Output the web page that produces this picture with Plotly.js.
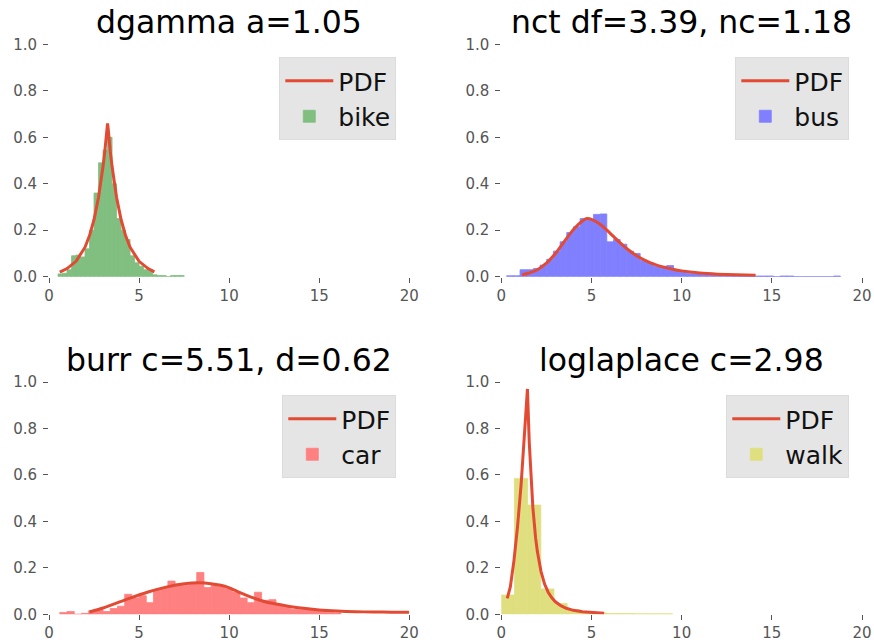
<!DOCTYPE html>
<html>
<head>
<meta charset="utf-8">
<script src="https://cdn.plot.ly/plotly-3.0.1.min.js"></script>
<style>html,body{margin:0;padding:0;background:#fff;}#chart{width:874px;height:642px;}</style>
</head>
<body>
<div id="chart"></div>
<script>
// ---- titles ----
const titles = ['dgamma a=1.05', 'nct df=3.39, nc=1.18', 'burr c=5.51, d=0.62', 'loglaplace c=2.98'];
const names = ['bike', 'bus', 'car', 'walk'];

// ---- histogram data (bin left edges, bin widths, densities) ----
const bikeEdges = [0.5,0.75,1.0,1.25,1.5,1.75,2.0,2.25,2.5,2.75,3.0,3.25,3.5,3.75,4.0,4.25,4.5,4.75,5.0,5.25,5.5,5.75,6.0,6.25,6.5,6.75,7.0,7.25];
const bikeBinWidth = 0.25;
const bikeDensity = [0.012,0.015,0.03,0.09,0.093,0.085,0.12,0.2,0.36,0.49,0.545,0.60,0.40,0.25,0.2,0.16,0.09,0.06,0.045,0.03,0.03,0.008,0.005,0.005,0,0.005,0.005,0.005];

const busEdges = [0.3,0.67,1.04,1.41,1.78,2.15,2.52,2.89,3.26,3.63,4.0,4.37,4.74,5.11,5.48,5.85,6.22,6.59,6.96,7.33,7.7,8.07,8.44,8.81,9.18,9.55,9.92,10.29,10.66,11.03,11.4,11.77,12.14,12.51,12.88,13.25,13.62,13.99,14.36,14.73,15.1,15.47,15.84,16.21,16.58,16.95,17.32,17.69,18.06,18.43];
const busBinWidth = 0.37;
const busDensity = [0.004,0.004,0.03,0.03,0.035,0.05,0.075,0.11,0.15,0.19,0.215,0.25,0.245,0.268,0.27,0.15,0.16,0.14,0.11,0.10,0.07,0.06,0.045,0.045,0.048,0.025,0.02,0.015,0.012,0.01,0.008,0.007,0.005,0.004,0.004,0.003,0.003,0.003,0.003,0.003,0,0.003,0.003,0,0,0,0,0,0,0.003];

const carEdges = [0.6,1.0,1.4,1.8,2.2,2.6,3.0,3.4,3.8,4.2,4.6,5.0,5.4,5.8,6.2,6.6,7.0,7.4,7.8,8.2,8.6,9.0,9.4,9.8,10.2,10.6,11.0,11.4,11.8,12.2,12.6,13.0,13.4,13.8,14.2,14.6,15.0,15.4,15.8];
const carBinWidth = 0.4;
const carDensity = [0.008,0.012,0,0.004,0.015,0.02,0.012,0.025,0.035,0.086,0.07,0.08,0.05,0.105,0.115,0.143,0.13,0.125,0.13,0.18,0.115,0.125,0.12,0.11,0.095,0.07,0.05,0.095,0.06,0.063,0.04,0.03,0.022,0.02,0.018,0.02,0.013,0.008,0.006];

const walkEdges = [0,0.73,1.46,2.19,2.92,3.65,4.38,5.11,5.84,6.57,7.3,8.03,8.76];
const walkBinWidth = 0.73;
const walkDensity = [0.083,0.585,0.47,0.109,0.047,0.02,0.01,0.006,0.003,0.003,0.002,0.002,0.002];

// ---- fitted PDF curves ----
const bikePdfX = [0.6,1.0,1.5,2.0,2.25,2.5,2.75,2.9,3.0,3.1,3.18,3.22,3.25,3.28,3.32,3.4,3.5,3.6,3.75,4.0,4.25,4.5,5.0,5.5,5.85];
const bikePdfY = [0.02,0.035,0.066,0.127,0.177,0.246,0.342,0.416,0.475,0.54,0.60,0.64,0.66,0.64,0.60,0.54,0.475,0.416,0.342,0.246,0.177,0.127,0.066,0.035,0.021];

const busPdfX = [1.15,1.5,2,2.5,3,3.5,4,4.5,4.75,5,5.5,6,6.5,7,7.5,8,8.5,9,9.5,10,11,12,13,14.1];
const busPdfY = [0.008,0.015,0.03,0.058,0.10,0.152,0.203,0.24,0.25,0.247,0.225,0.19,0.152,0.118,0.09,0.069,0.053,0.041,0.032,0.025,0.016,0.011,0.008,0.006];

const carPdfX = [2.25,3,3.7,4.5,5.5,6.5,7.4,8.3,9,9.8,10.5,11.3,12,12.6,13.2,14,15,16,17,18,19,20];
const carPdfY = [0.01,0.027,0.047,0.07,0.096,0.117,0.13,0.136,0.132,0.12,0.097,0.072,0.054,0.044,0.036,0.027,0.019,0.014,0.011,0.01,0.009,0.0085];

const walkPdfX = [0.33,0.5,0.7,0.9,1.1,1.25,1.35,1.45,1.55,1.65,1.75,1.9,2.0,2.2,2.4,2.6,2.8,3.0,3.3,3.6,4.0,4.5,5.0,5.7];
const walkPdfY = [0.069,0.118,0.23,0.377,0.56,0.72,0.84,0.97,0.74,0.58,0.46,0.33,0.27,0.185,0.13,0.095,0.071,0.054,0.037,0.026,0.017,0.011,0.007,0.004];

const xTicks = [0,5,10,15,20];
const yTicks = [0,0.2,0.4,0.6,0.8,1.0];

// ---- styles ----
const pdfColor = '#E24A33';
// half-transparent green / blue / red / olive, pre-blended on white
const barColors = ['#80bf80','#8080ff','#ff8080','#dfdf80'];
const FONT = 'DejaVu Sans, sans-serif';

const hist = [
  [bikeEdges, bikeBinWidth, bikeDensity],
  [busEdges, busBinWidth, busDensity],
  [carEdges, carBinWidth, carDensity],
  [walkEdges, walkBinWidth, walkDensity]
];
const pdfs = [[bikePdfX,bikePdfY,'linear'],[busPdfX,busPdfY,'spline'],[carPdfX,carPdfY,'spline'],[walkPdfX,walkPdfY,'linear']];

const traces = [];
for (let i = 0; i < 4; i++) {
  const ax = i === 0 ? '' : String(i + 1);
  const lg = i === 0 ? 'legend' : 'legend' + (i + 1);
  traces.push({
    type: 'scatter', mode: 'lines', name: 'PDF',
    x: pdfs[i][0], y: pdfs[i][1],
    line: {color: pdfColor, width: 3, shape: pdfs[i][2], smoothing: 0.6},
    xaxis: 'x' + ax, yaxis: 'y' + ax, legend: lg, legendgroup: 'pdf' + i,
    hoverinfo: 'skip'
  });
  traces.push({
    type: 'bar', name: names[i],
    x: hist[i][0], y: hist[i][2], width: hist[i][1], offset: 0,
    marker: {color: barColors[i], line: {width: 0.8, color: barColors[i]}},
    xaxis: 'x' + ax, yaxis: 'y' + ax, legend: lg, legendgroup: 'hist' + i,
    hoverinfo: 'skip'
  });
}

const W = 874, H = 642;
const colX = [[49/W, 409.3/W], [501.3/W, 862/W]];
const rowY = [[1 - 276.7/H, 1 - 44.3/H], [1 - 614.3/H, 1 - 382/H]];

const layout = {
  width: W, height: H,
  margin: {l: 0, r: 0, t: 0, b: 0},
  paper_bgcolor: '#ffffff', plot_bgcolor: '#ffffff',
  font: {family: FONT},
  barmode: 'overlay',
  annotations: []
};

const axBase = {
  showgrid: false, zeroline: false, showline: false,
  ticks: 'outside', ticklen: 5, tickwidth: 1, tickcolor: '#555555',
  tickfont: {size: 15, color: '#555555', family: FONT},
  fixedrange: true
};

for (let i = 0; i < 4; i++) {
  const r = Math.floor(i / 2), c = i % 2;
  const ax = i === 0 ? '' : String(i + 1);
  layout['xaxis' + ax] = Object.assign({}, axBase, {
    domain: colX[c], range: [0, 20], anchor: 'y' + ax,
    tickvals: xTicks, tickformat: 'd'
  });
  layout['yaxis' + ax] = Object.assign({}, axBase, {
    domain: rowY[r], range: [0, 1], anchor: 'x' + ax,
    tickvals: yTicks, tickformat: '.1f', ticklabelstandoff: 3
  });
  const lg = i === 0 ? 'legend' : 'legend' + (i + 1);
  layout[lg] = {
    x: (c === 0 ? 396.3 : 849.3) / W, xanchor: 'right',
    y: 1 - (r === 0 ? 57 : 395) / H, yanchor: 'top',
    bgcolor: '#e5e5e5', bordercolor: '#dcdcdc', borderwidth: 1,
    font: {size: 25, color: '#111111', family: FONT},
    itemwidth: 48,
    tracegroupgap: 6, traceorder: 'normal'
  };
  layout.annotations.push({
    text: titles[i], showarrow: false,
    xref: 'paper', yref: 'paper',
    x: (colX[c][0] + colX[c][1]) / 2, xanchor: 'center',
    y: r === 0 ? 1 - 42.5/H : 1 - 379.5/H, yanchor: 'bottom',
    font: {size: 31.5, color: '#000000', family: FONT}
  });
}

Plotly.newPlot('chart', traces, layout, {displayModeBar: false, staticPlot: true});
</script>
</body>
</html>
